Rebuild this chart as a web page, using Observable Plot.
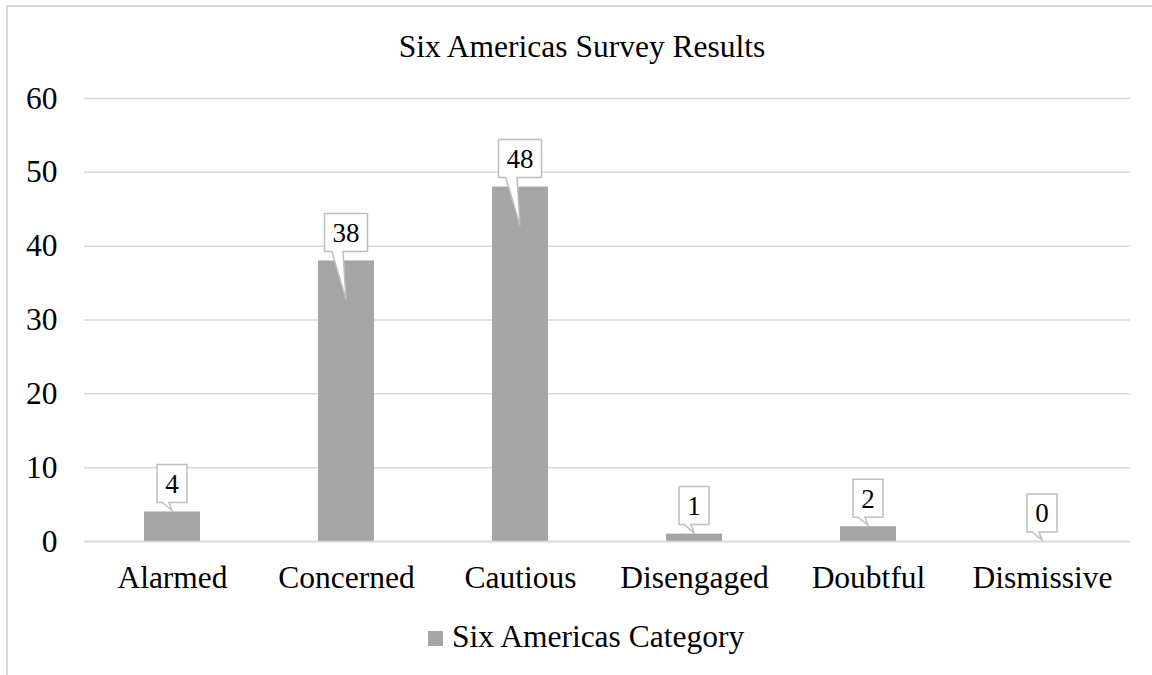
<!DOCTYPE html>
<html>
<head>
<meta charset="utf-8">
<script src="https://cdn.jsdelivr.net/npm/d3@7"></script>
<script src="https://cdn.jsdelivr.net/npm/@observablehq/plot@0.6"></script>
<style>
  html, body { margin: 0; padding: 0; background: #fff; overflow: hidden; width: 1152px; height: 675px; }
  #frame { position: absolute; left: 6px; top: 5px; width: 2000px; height: 2000px;
           border-left: 2px solid #d9d9d9; border-top: 2px solid #d9d9d9; box-sizing: border-box; }
  #title { position: absolute; left: 0; top: 31px; width: 1164px; text-align: center;
           font-family: "Liberation Serif", serif; font-size: 31.5px; line-height: 31.5px; color: #000; }
  #chart { position: absolute; left: 0; top: 0; }
  #legend { position: absolute; left: 428px; top: 621px; font-family: "Liberation Serif", serif;
            font-size: 31.5px; line-height: 31.5px; color: #000; white-space: nowrap; }
  #legend .sw { display: inline-block; width: 15px; height: 15px; background: #a5a5a5; margin-right: 9px; vertical-align: 1px; }
</style>
</head>
<body>
<div id="frame"></div>
<div id="chart"></div>
<div id="title">Six Americas Survey Results</div>
<div id="legend"><span class="sw"></span>Six Americas Category</div>
<script>
const categories = ["Alarmed", "Concerned", "Cautious", "Disengaged", "Doubtful", "Dismissive"];
const values = [4, 38, 48, 1, 2, 0];
const yTicks = [0, 10, 20, 30, 40, 50, 60];
const seriesName = "Six Americas Category";

const data = categories.map((c, i) => ({category: c, value: values[i]}));

const canvas = document.createElement("canvas");
const ctx = canvas.getContext("2d");
ctx.font = "27px 'Liberation Serif'";

function callouts(index, scales) {
  const g = d3.create("svg:g");
  const x = scales.x, y = scales.y;
  const bw = x.bandwidth ? x.bandwidth() : 0;
  for (const d of data) {
    const cx = x(d.category) + bw / 2;
    const top = y(d.value);
    const label = String(d.value);
    const w = Math.round(ctx.measureText(label).width + 16);
    const h = 38;
    const bottom = top - 9;
    const left = cx - w / 2, right = cx + w / 2, boxTop = bottom - h;
    const tipY = d.value >= 10 ? top + 39 : top - 1;
    const baseL = cx - w * 0.33, baseR = cx - 3;
    const path = `M${left},${boxTop}H${right}V${bottom}H${baseR}L${cx},${tipY}L${baseL},${bottom}H${left}Z`;
    g.append("path").attr("d", path).attr("fill", "#fff").attr("stroke", "#bfbfbf").attr("stroke-width", 1.5);
    g.append("text").attr("x", cx).attr("y", bottom - h / 2).attr("dy", "0.35em")
      .attr("text-anchor", "middle").attr("font-size", 27).attr("fill", "#000").text(label);
  }
  return g.node();
}

const plot = Plot.plot({
  width: 1152,
  height: 600,
  marginTop: 98,
  marginBottom: 59,
  marginLeft: 84,
  marginRight: 22,
  style: {fontFamily: "'Liberation Serif', serif", fontSize: "31.5px", color: "#000", background: "transparent"},
  x: {domain: categories, paddingInner: 0.68, paddingOuter: 0.34, label: null},
  y: {domain: [0, 60], label: null},
  marks: [
    Plot.gridY(yTicks, {stroke: "#d9d9d9", strokeOpacity: 1, strokeWidth: 1.5}),
    Plot.barY(data, {x: "category", y: "value", fill: "#a5a5a5"}),
    Plot.ruleY([0], {stroke: "#d9d9d9", strokeWidth: 1.5}),
    Plot.axisY(yTicks, {tickSize: 0, tickPadding: 27, label: null, fontSize: 31.5}),
    Plot.axisX({tickSize: 0, tickPadding: 24, label: null, fontSize: 31.5}),
    callouts
  ]
});
document.getElementById("chart").appendChild(plot);
</script>
</body>
</html>
